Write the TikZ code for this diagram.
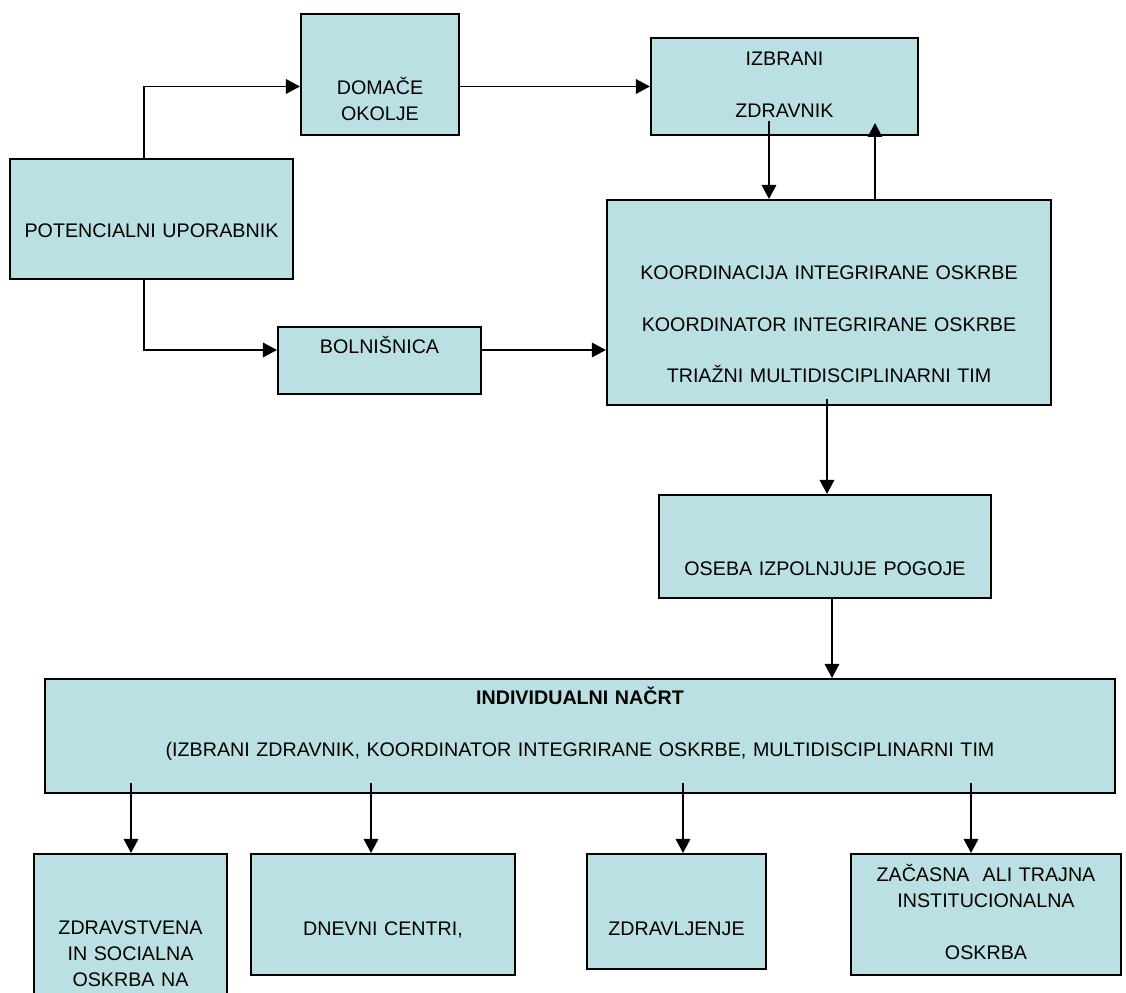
\documentclass[tikz,border=0pt]{standalone}
\usepackage{fontspec}
\setmainfont{Liberation Sans}
\usetikzlibrary{arrows.meta,calc}
\definecolor{boxfill}{RGB}{187,224,227}
\begin{document}
\begin{tikzpicture}[x=0.025cm, y=0.025cm, line width=1.4pt,
  >={Triangle[length=0.35cm,width=0.36cm]},
  box/.style={draw, fill=boxfill, inner sep=0pt, align=center, font=\fontsize{14}{18.3}\selectfont}]
  \useasboundingbox (0,0) rectangle (1126,993);
  \node[box, text width=7.075cm, text height=1.975cm, text depth=1.025cm] (pu) at (151.5,774) {POTENCIALNI UPORABNIK};
  \node[box, text width=3.95cm, text height=2.025cm, text depth=1cm] (dom) at (380,918.5) {DOMAČE\\OKOLJE};
  \node[box, text width=6.675cm, text height=0.7cm, text depth=1.725cm] (izb) at (784.5,906.5) {IZBRANI\\[18.3pt]ZDRAVNIK};
  \node[box, text width=5.075cm, text height=0.675cm, text depth=1cm] (bol) at (379.5,632.5) {BOLNIŠNICA};
  \node[box, text width=11.1cm, text height=2cm, text depth=3.125cm] (koord) at (829,690.5)
    {KOORDINACIJA INTEGRIRANE OSKRBE\\[18.3pt]KOORDINATOR INTEGRIRANE OSKRBE\\[18.3pt]TRIAŽNI MULTIDISCIPLINARNI TIM};
  \node[box, text width=8.3cm, text height=2cm, text depth=0.575cm] (oseba) at (825,446.5) {OSEBA IZPOLNJUJE POGOJE};
  \node[box, text width=26.75cm, text height=0.65cm, text depth=2.2cm] (nacrt) at (580,257)
    {\textbf{INDIVIDUALNI NAČRT}\\[18.3pt](IZBRANI ZDRAVNIK, KOORDINATOR INTEGRIRANE OSKRBE, MULTIDISCIPLINARNI TIM};
  \node[box, text width=4.825cm, text height=2.025cm, text depth=1.875cm] (zdr) at (130.5,61) {ZDRAVSTVENA\\IN SOCIALNA\\OSKRBA NA};
  \node[box, text width=6.6cm, text height=2.025cm, text depth=1cm] (dnev) at (383,78.5) {DNEVNI CENTRI,};
  \node[box, text width=4.475cm, text height=2.025cm, text depth=0.85cm] (zdrav) at (676.5,81.5) {ZDRAVLJENJE};
  \node[box, text width=6.75cm, text height=0.7cm, text depth=2.325cm] (inst) at (986,78.5)
    {ZAČASNA~ ALI TRAJNA\\INSTITUCIONALNA\\[18.3pt]OSKRBA};
  % connectors
  \draw[->] ($(pu.north)+(-7.5,0)$) |- (dom.west |- izb.west);
  \draw[->] (dom.east |- izb.west) -- (izb.west);
  \draw[->] ($(pu.south)+(-7.5,0)$) |- ($(bol.west)+(0,10.5)$);
  \draw[->] ($(bol.east)+(0,10.5)$) -- ($(bol.east -| koord.west)+(0,10.5)$);
  \coordinate (zdown) at ($(izb.south)+(-15.5,15)$);
  \coordinate (zup) at ($(izb.south)+(90.5,13)$);
  \draw[->] (zdown) -- (zdown |- koord.north);
  \draw[->] (zup |- koord.north) -- (zup);
  \coordinate (kout) at ($(koord.south)+(-2,7)$);
  \draw[->] (kout) -- (kout |- oseba.north);
  \coordinate (oout) at ($(oseba.south)+(7,0)$);
  \draw[->] (oout) -- (oout |- nacrt.north);
  \foreach \b/\dx in {zdr/0.5, dnev/-12, zdrav/6.5, inst/-15}{
    \coordinate (in\b) at ($(\b.north)+(\dx,0)$);
    \draw[->] ($(in\b |- nacrt.south)+(0,11)$) -- (in\b);
  }
\end{tikzpicture}
\end{document}
